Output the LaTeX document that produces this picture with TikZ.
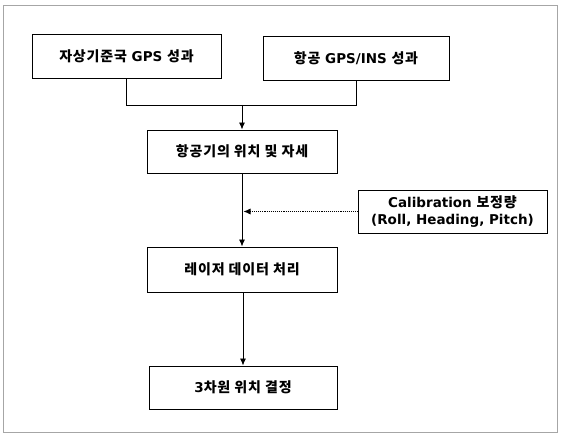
\documentclass[tikz,border=0pt]{standalone}
\usepackage{fontspec}
\setmainfont{DejaVu Sans}
\newfontfamily\kr[LetterSpace=6]{Noto Sans CJK KR}
\usetikzlibrary{arrows,arrows.meta,positioning}
\newcommand{\ko}[1]{{\kr\bfseries\fontsize{14}{16}\selectfont #1}}

\begin{document}
\begin{tikzpicture}[x=1pt,y=-1pt,
    box/.style={draw,line width=0.9pt,minimum width=189pt,minimum height=44pt,
      inner sep=2pt,align=center,font=\fontsize{13.5}{17}\selectfont\bfseries},
    flow/.style={-{Latex[length=7pt,width=6pt]},line width=0.9pt}]
  \useasboundingbox (0,0) rectangle (562,435);
  \draw[black!35] (3,5) rectangle (557,432);
  % inputs
  \node[box] (gnd) at (126.5,56) {\ko{자상기준국} GPS \ko{성과}};
  \node[box,minimum width=186pt] (air) at (356,58.5) {\ko{항공} GPS/INS \ko{성과}};
  % processing chain
  \node[box,minimum width=190pt,minimum height=43pt] (pose) at (242,151.5) {\ko{항공기의 위치 및 자세}};
  \node[box,minimum height=43pt,font=\fontsize{13.5}{17}\selectfont\bfseries] (calib) at (452.5,211.5)
    {Calibration \ko{보정량}\\(Roll, Heading, Pitch)};
  \node[box,minimum width=190pt,minimum height=45pt] (laser) at (242,269.5) {\ko{레이저 데이터 처리}};
  \node[box,minimum width=188pt,minimum height=43pt] (pos3d) at (243,387.5) {3\ko{차원 위치 결정}};
  \coordinate (join) at (242,105);
  \draw[line width=0.9pt] (gnd.south) |- (join);
  \draw[line width=0.9pt] (air.south) |- (join);
  \draw[flow] (join) -- (pose.north);
  \draw[flow] (pose.south) -- (laser.north);
  \draw[flow,densely dotted,line width=0.7pt] (calib.west) -- ([xshift=1.5pt]calib.west -| pose.south);
  \draw[flow] (laser.south -| pos3d.north) -- (pos3d.north);
\end{tikzpicture}
\end{document}
